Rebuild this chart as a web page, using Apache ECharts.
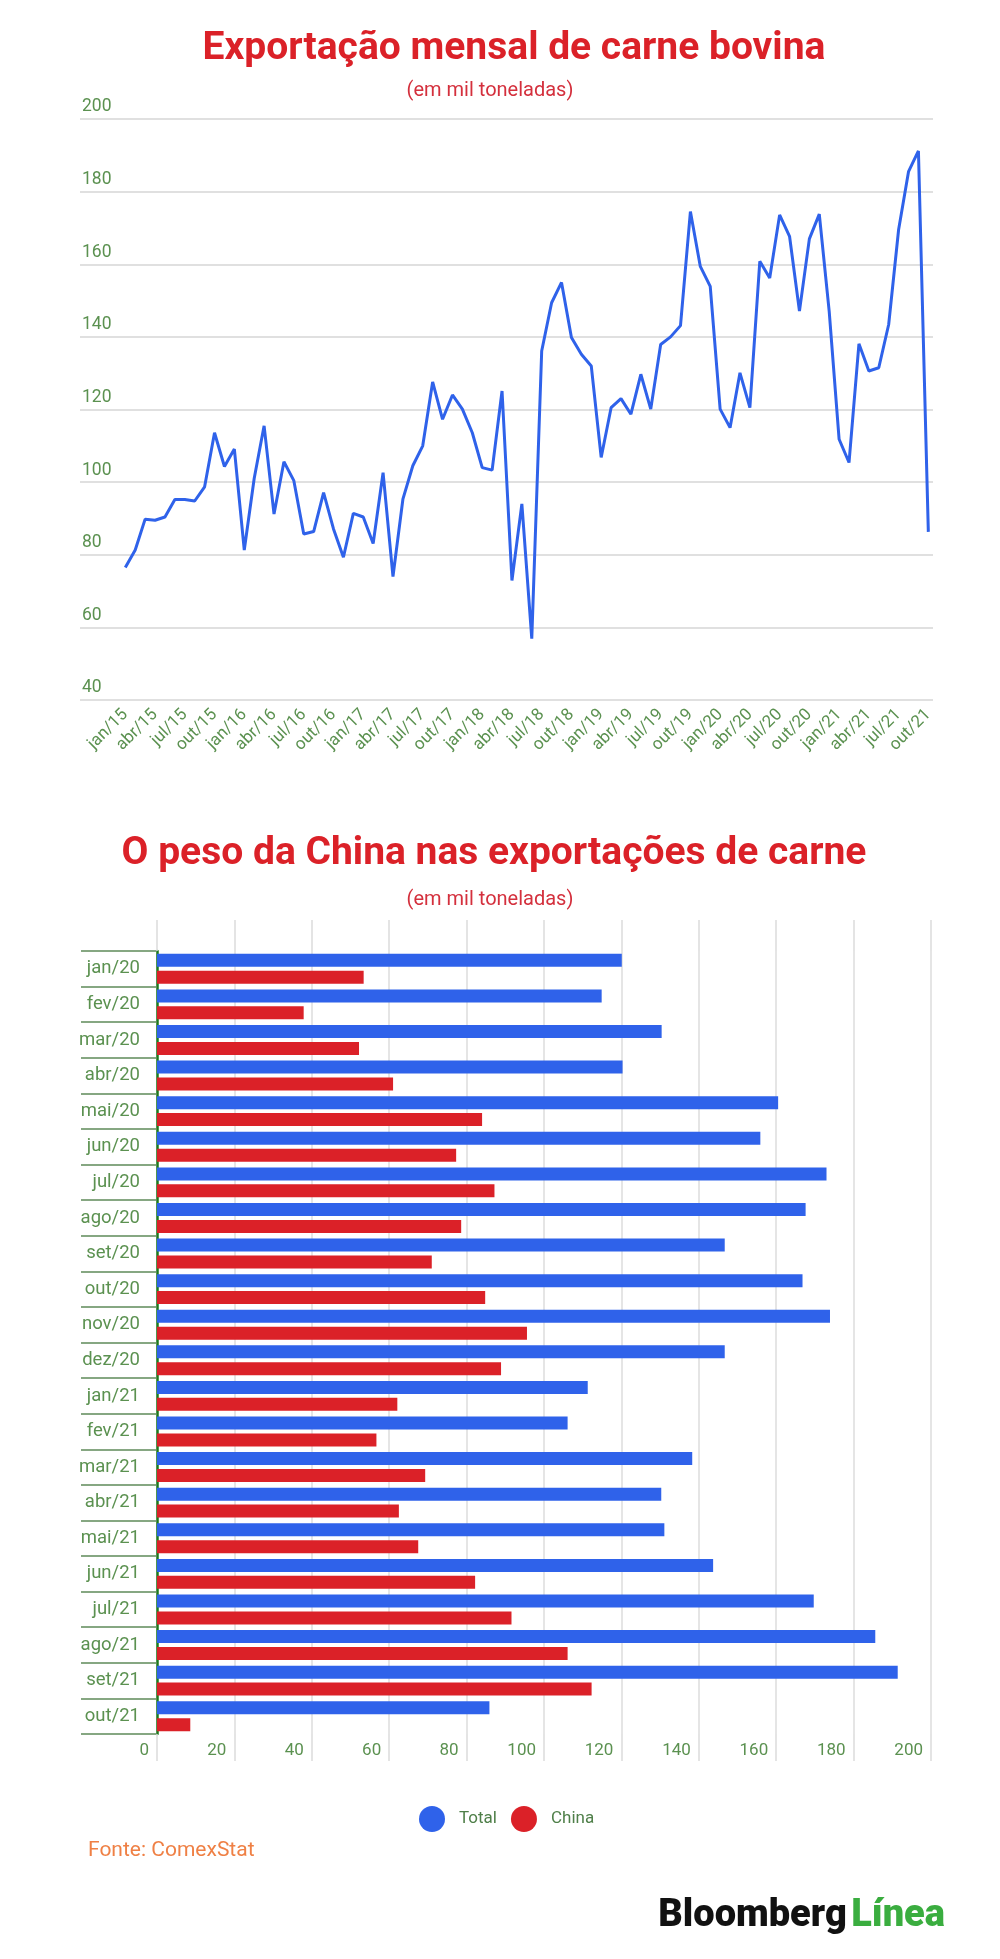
<!DOCTYPE html>
<html>
<head>
<meta charset="utf-8">
<script src="https://cdn.jsdelivr.net/npm/echarts@6/dist/echarts.min.js"></script>
<style>
html,body{margin:0;padding:0;background:#fff;}
#c{width:1000px;height:1959px;}
</style>
</head>
<body>
<div id="c"></div>
<script>
// ---- Chart 1: monthly beef exports (thousand tonnes) ----
const monthLabels = [
 'jan/15','fev/15','mar/15','abr/15','mai/15','jun/15','jul/15','ago/15','set/15','out/15','nov/15','dez/15',
 'jan/16','fev/16','mar/16','abr/16','mai/16','jun/16','jul/16','ago/16','set/16','out/16','nov/16','dez/16',
 'jan/17','fev/17','mar/17','abr/17','mai/17','jun/17','jul/17','ago/17','set/17','out/17','nov/17','dez/17',
 'jan/18','fev/18','mar/18','abr/18','mai/18','jun/18','jul/18','ago/18','set/18','out/18','nov/18','dez/18',
 'jan/19','fev/19','mar/19','abr/19','mai/19','jun/19','jul/19','ago/19','set/19','out/19','nov/19','dez/19',
 'jan/20','fev/20','mar/20','abr/20','mai/20','jun/20','jul/20','ago/20','set/20','out/20','nov/20','dez/20',
 'jan/21','fev/21','mar/21','abr/21','mai/21','jun/21','jul/21','ago/21','set/21','out/21'
];
const monthlyExport = [
 76.5, 81.3, 89.8, 89.5, 90.4, 95.2, 95.2, 94.8, 98.7, 113.6, 104.3, 109.1,
 81.3, 101.0, 115.5, 91.2, 105.6, 100.4, 85.7, 86.4, 97.1, 87.1, 79.3, 91.4,
 90.4, 83.1, 102.6, 74.0, 95.3, 104.5, 110.0, 127.6, 117.3, 124.0, 120.1, 113.6,
 104.0, 103.3, 125.1, 72.9, 94.0, 56.9, 136.1, 149.4, 155.0, 139.8, 135.2, 132.0,
 106.8, 120.5, 123.0, 118.7, 129.7, 120.1, 137.9, 140.0, 143.1, 174.5, 159.4, 153.9,
 120.1, 115.0, 130.1, 120.5, 160.8, 156.2, 173.6, 167.7, 147.1, 167.0, 173.8, 147.0,
 111.8, 105.4, 138.1, 130.6, 131.5, 143.4, 169.5, 185.5, 191.2, 86.3
];
const lineTickIdx = [0,3,6,9,12,15,18,21,24,27,30,33,36,39,42,45,48,51,54,57,60,63,66,69,72,75,78,81];
const lineYTicks = {min: 40, max: 200, interval: 20};

// ---- Chart 2: China's share ----
const barCategories = ['jan/20','fev/20','mar/20','abr/20','mai/20','jun/20','jul/20','ago/20','set/20','out/20','nov/20','dez/20',
 'jan/21','fev/21','mar/21','abr/21','mai/21','jun/21','jul/21','ago/21','set/21','out/21'];
const totalValues = [120.1, 114.9, 130.4, 120.3, 160.5, 155.9, 173.0, 167.6, 146.7, 166.8, 173.9, 146.7,
 111.3, 106.1, 138.3, 130.3, 131.1, 143.7, 169.7, 185.6, 191.4, 85.9];
const chinaValues = [53.4, 37.9, 52.2, 61.0, 84.0, 77.3, 87.2, 78.6, 71.0, 84.8, 95.6, 88.9,
 62.1, 56.7, 69.3, 62.5, 67.5, 82.2, 91.6, 106.1, 112.3, 8.6];
const barXTicks = {min: 0, max: 200, interval: 20};

const GREEN_TXT = '#5b9150';
const RED = '#db2128';
const BLUE = '#2f62ea';
const GRID_GREY = '#dcdcdc';
const FONT = 'Roboto';

const chart = echarts.init(document.getElementById('c'), null, {renderer: 'canvas'});
chart.setOption({
  animation: false,
  backgroundColor: '#fff',
  textStyle: {fontFamily: FONT},
  title: [
    {text: 'Exportação mensal de carne bovina', left: 509, top: 25, textAlign: 'center',
     textStyle: {fontFamily: FONT, fontWeight: 'bold', fontSize: 39, color: RED}},
    {text: '(em mil toneladas)', left: 485, top: 76, textAlign: 'center',
     textStyle: {fontFamily: FONT, fontWeight: 'normal', fontSize: 20, color: '#d4303d'}},
    {text: 'O peso da China nas exportações de carne', left: 489, top: 830, textAlign: 'center',
     textStyle: {fontFamily: FONT, fontWeight: 'bold', fontSize: 39, color: RED}},
    {text: '(em mil toneladas)', left: 485, top: 885, textAlign: 'center',
     textStyle: {fontFamily: FONT, fontWeight: 'normal', fontSize: 20, color: '#d4303d'}},
    {text: 'Fonte: ComexStat', left: 83, top: 1835,
     textStyle: {fontFamily: FONT, fontWeight: 'normal', fontSize: 21, color: '#ef8045'}},
    {text: '{b|Bloomberg} {l|Línea}', right: 50, top: 1892,
     textStyle: {rich: {
       b: {fontFamily: FONT, fontWeight: 900, fontSize: 38, color: '#111'},
       l: {fontFamily: FONT, fontWeight: 900, fontSize: 38, color: '#3aad3f'}
     }}}
  ],
  legend: {
    data: ['Total', 'China'], left: 414, top: 1801, icon: 'circle',
    itemWidth: 26, itemHeight: 26, itemGap: 14,
    textStyle: {fontFamily: FONT, fontSize: 17, color: '#4f7f49', padding: [0, 0, 0, 9]}
  },
  grid: [
    {left: 80, right: 67, top: 119, height: 581},
    {left: 157, right: 69, top: 951, height: 783}
  ],
  xAxis: [
    {gridIndex: 0, type: 'value', min: -4.57, max: 81.47,
     splitLine: {show: false}, axisLine: {show: false}, axisTick: {show: false},
     axisLabel: {customValues: lineTickIdx, formatter: v => monthLabels[Math.round(v)],
       rotate: 45, margin: 12, fontSize: 17, color: GREEN_TXT, fontFamily: FONT}},
    {gridIndex: 1, type: 'value', min: barXTicks.min, max: barXTicks.max, interval: barXTicks.interval, position: 'bottom',
     axisLine: {show: false},
     axisTick: {show: true, length: 27, lineStyle: {color: GRID_GREY, width: 1.5}},
     splitLine: {show: true, lineStyle: {color: GRID_GREY, width: 1.5}},
     axisLabel: {align: 'right', padding: [0, 8, 0, 0], margin: 8, verticalAlign: 'top',
       fontSize: 17, color: GREEN_TXT, fontFamily: FONT, showMinLabel: true, showMaxLabel: true}},
    {gridIndex: 1, type: 'value', min: barXTicks.min, max: barXTicks.max, interval: barXTicks.interval, position: 'top',
     axisLine: {show: false}, axisLabel: {show: false}, splitLine: {show: false},
     axisTick: {show: true, length: 31, lineStyle: {color: GRID_GREY, width: 1.5}}}
  ],
  yAxis: [
    {gridIndex: 0, type: 'value', min: lineYTicks.min, max: lineYTicks.max, interval: lineYTicks.interval,
     axisLine: {show: false}, axisTick: {show: false},
     splitLine: {show: true, lineStyle: {color: '#d6d6d6', width: 1.5}},
     axisLabel: {inside: true, margin: 2, verticalAlign: 'bottom', padding: [0, 0, 3, 0],
       fontSize: 17.5, color: GREEN_TXT, fontFamily: FONT}},
    {gridIndex: 1, type: 'category', data: barCategories, inverse: true,
     axisLine: {show: true, lineStyle: {color: '#1d7a1d', width: 2.5}},
     axisTick: {show: true, length: 76, lineStyle: {color: '#5f8a5a', width: 1.5}},
     splitLine: {show: false},
     axisLabel: {margin: 17, fontSize: 18.5, color: GREEN_TXT, fontFamily: FONT}}
  ],
  series: [
    {name: 'Exportação', type: 'line', xAxisIndex: 0, yAxisIndex: 0,
     data: monthlyExport.map((v, i) => [i, v]),
     showSymbol: false, symbol: 'none',
     lineStyle: {color: BLUE, width: 3}, itemStyle: {color: BLUE}},
    {name: 'Total', type: 'bar', xAxisIndex: 1, yAxisIndex: 1, data: totalValues,
     barWidth: 13, barGap: '30%', itemStyle: {color: BLUE}},
    {name: 'China', type: 'bar', xAxisIndex: 1, yAxisIndex: 1, data: chinaValues,
     barWidth: 13, barGap: '30%', itemStyle: {color: RED}}
  ]
});
</script>
</body>
</html>
